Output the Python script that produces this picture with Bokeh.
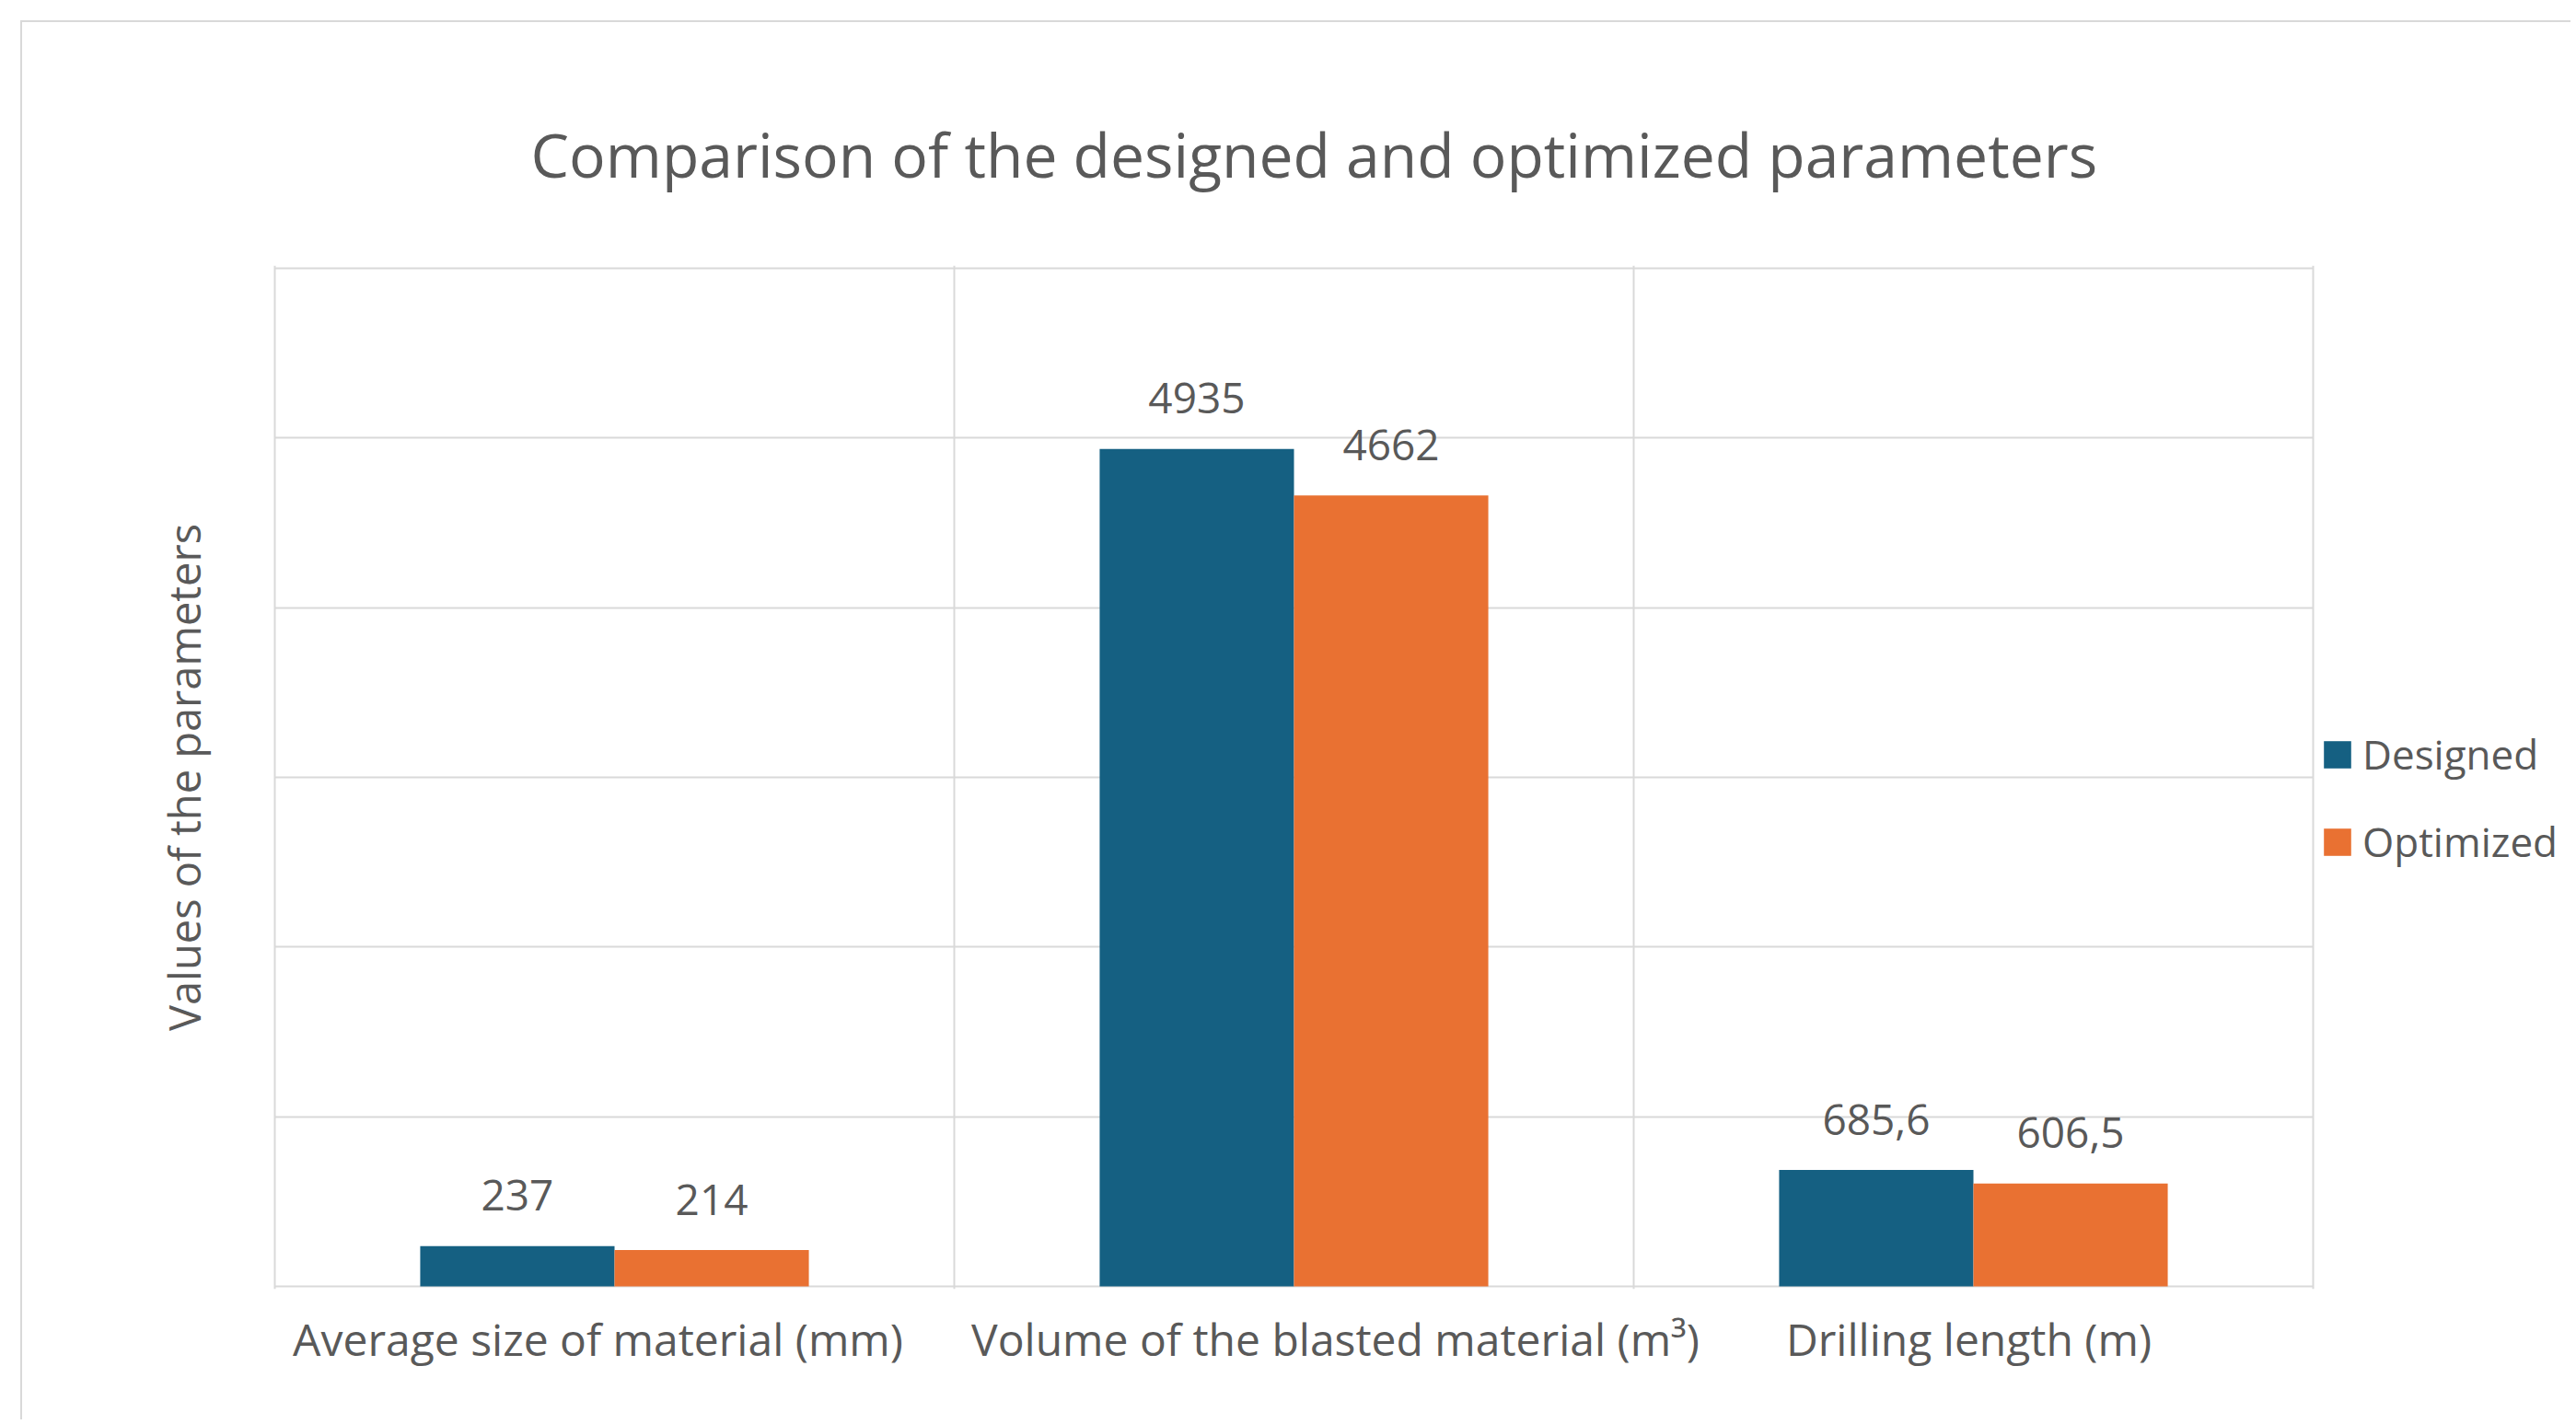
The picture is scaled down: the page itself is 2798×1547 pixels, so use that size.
from bokeh.plotting import figure
from bokeh.models import ColumnDataSource, Range1d, Legend, LegendItem, Span, FixedTicker
from bokeh.transform import dodge
from bokeh.core.properties import value
from bokeh.embed import file_html
from bokeh.resources import INLINE

# ---- data ----
categories = [
    "Average size of material (mm)",
    "Volume of the blasted material (m³)",
    "Drilling length (m)",
]
series_names = ["Designed", "Optimized"]
designed = [237, 4935, 685.6]
optimized = [214, 4662, 606.5]
y_ticks = [0, 1000, 2000, 3000, 4000, 5000, 6000]

title_text = "Comparison of the designed and optimized parameters"
y_label = "Values of the parameters"

# ---- style ----
FONT = "Open Sans"
TXT = "#595959"
GRID = "#D9D9D9"
BLUE = "#156082"
ORANGE = "#E97132"
LABEL_SHIFT_PX = [-18, 45, -5]   # horizontal nudges of the category names (pixels)

W, H = 2770, 1520
FL, FR, FT, FB = 274, 2488, 267, 1373   # plot-area edges in figure pixels
PAD = 3                                  # keep edge lines inside the frame clip


def fmt(v):
    return f"{v:g}".replace(".", ",")


n = len(categories)
xpos = [i + 1 for i in range(n)]          # category slots 1..n
upx = n / (FR - FL)                       # data units per pixel (x)
upy = (y_ticks[-1] - y_ticks[0]) / (FB - FT)

src = ColumnDataSource(dict(
    x=xpos,
    designed=designed,
    optimized=optimized,
    dlab=[fmt(v) for v in designed],
    olab=[fmt(v) for v in optimized],
))

p = figure(
    x_range=Range1d(0.5 - PAD * upx, 0.5 + (W - FL) * upx),
    y_range=Range1d(y_ticks[0] - PAD * upy, y_ticks[-1] + PAD * upy),
    width=W, height=H,
    output_backend="svg", toolbar_location=None,
    min_border_left=FL - PAD, min_border_right=0,
    min_border_top=FT - PAD, min_border_bottom=H - FB - PAD,
    background_fill_color="white", border_fill_color="white",
)
p.styles = {
    "margin-left": "22px", "margin-top": "22px",
    "border-left": "2px solid #D9D9D9", "border-top": "2px solid #D9D9D9",
}
p.outline_line_color = None

# horizontal gridlines, limited to the plot area
p.xgrid.visible = False
p.ygrid.ticker = FixedTicker(ticks=y_ticks)
p.ygrid.grid_line_color = GRID
p.ygrid.grid_line_width = 2
try:
    p.ygrid.cross_bounds = (0.5, n + 0.5)
except Exception:
    p.ygrid.visible = False
    p.segment(x0=[0.5] * len(y_ticks), x1=[n + 0.5] * len(y_ticks), y0=y_ticks, y1=y_ticks,
              line_color=GRID, line_width=2)

# category separators / plot-area sides
for i in range(n + 1):
    p.add_layout(Span(location=i + 0.5, dimension="height", line_color=GRID, line_width=2))

bw = 0.286
r1 = p.vbar(x=dodge("x", -bw / 2), top="designed", width=bw,
            source=src, fill_color=BLUE, line_color=None)
r2 = p.vbar(x=dodge("x", bw / 2), top="optimized", width=bw,
            source=src, fill_color=ORANGE, line_color=None)

for col, lab, off in (("designed", "dlab", -bw / 2), ("optimized", "olab", bw / 2)):
    p.text(x=dodge("x", off), y=col, text=lab, source=src,
           text_align="center", text_baseline="middle", y_offset=-55,
           text_font=value(FONT), text_font_size="46px", text_color=TXT)

# y axis: only its title
p.yaxis.ticker = FixedTicker(ticks=[])
p.yaxis.axis_label = y_label
p.yaxis.axis_label_text_font = FONT
p.yaxis.axis_label_text_font_size = "47px"
p.yaxis.axis_label_text_font_style = "normal"
p.yaxis.axis_label_text_color = TXT
p.yaxis.axis_label_standoff = 64
p.yaxis.major_tick_line_color = None
p.yaxis.minor_tick_line_color = None
p.yaxis.axis_line_color = None

# x axis: category names
label_x = [x + s * upx for x, s in zip(xpos, LABEL_SHIFT_PX)]
p.xaxis.ticker = FixedTicker(ticks=label_x)
p.xaxis.major_label_overrides = {x: c for x, c in zip(label_x, categories)}
p.xaxis.major_label_text_font = FONT
p.xaxis.major_label_text_font_size = "48px"
p.xaxis.major_label_text_color = TXT
p.xaxis.major_label_standoff = 15
p.xaxis.major_tick_line_color = None
p.xaxis.minor_tick_line_color = None
p.xaxis.axis_line_color = None

# title
p.title.text = title_text
p.title.align = "left"
p.title.offset = 281
p.title.text_font = FONT
p.title.text_font_size = "66px"
p.title.text_font_style = "normal"
p.title.text_color = TXT
p.title.standoff = 154

legend = Legend(
    items=[LegendItem(label=series_names[0], renderers=[r1]),
           LegendItem(label=series_names[1], renderers=[r2])],
    location=(2222 + PAD, 453 + PAD),
    glyph_width=37, glyph_height=37, label_standoff=9,
    label_text_font=FONT, label_text_font_size="44px", label_text_color=TXT,
    spacing=35, padding=0, margin=0,
    border_line_color=None, background_fill_alpha=0,
)
p.add_layout(legend)

open("out.html", "w").write(file_html(p, INLINE))
